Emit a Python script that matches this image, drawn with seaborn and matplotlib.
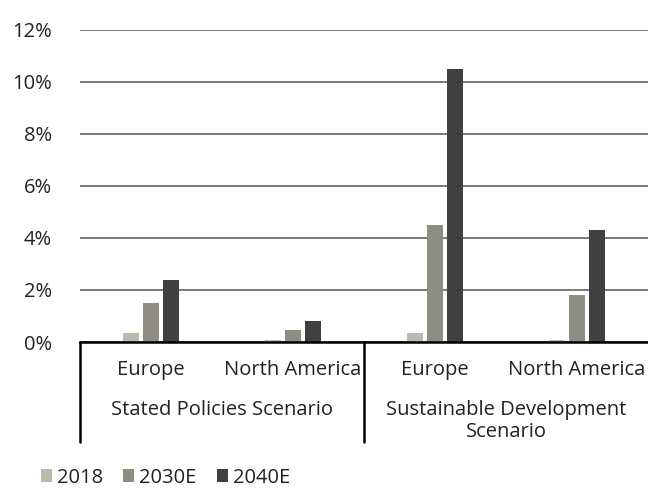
import pandas as pd
import matplotlib
matplotlib.use("Agg")
import matplotlib.pyplot as plt
import seaborn as sns
from matplotlib.patches import Patch
from matplotlib.ticker import PercentFormatter

# datos
regions = ["Europe", "North America", "Europe", "North America"]
scenarios = ["Stated Policies Scenario", "Sustainable Development\nScenario"]
years = ["2018", "2030E", "2040E"]
v2018 = [0.0035, 0.0008, 0.0035, 0.0008]
v2030 = [0.015, 0.0046, 0.045, 0.018]
v2040 = [0.024, 0.008, 0.105, 0.043]
colors = ["#bdb9aa", "#8e8e83", "#404040"]

keys = ["sps_eu", "sps_na", "sds_eu", "sds_na"]
rows = []
for yr, vals in zip(years, [v2018, v2030, v2040]):
    for k, v in zip(keys, vals):
        rows.append({"cat": k, "year": yr, "value": v})
df = pd.DataFrame(rows)

sns.set_style("white")
plt.rcParams["font.family"] = ["Open Sans", "DejaVu Sans"]
fs = 14.5

fig = plt.figure(figsize=(6.48, 4.92), dpi=100)
ax = fig.add_axes([80 / 648, 1 - 342 / 492, 1 - 80 / 648, (342 - 29.5) / 492])

sns.barplot(data=df, x="cat", y="value", hue="year", order=keys, hue_order=years,
            palette=colors, width=0.43, gap=0.2, ax=ax, legend=False,
            edgecolor="none", errorbar=None)

ax.set_ylim(0, 0.12)
ax.set_xlim(-0.5, 3.5)
ax.set_yticks([0, 0.02, 0.04, 0.06, 0.08, 0.1, 0.12])
ax.yaxis.set_major_formatter(PercentFormatter(1.0, decimals=0))
ax.yaxis.grid(True, color="#6e6e6e", linewidth=1.3)
ax.set_axisbelow(True)
for s in ["top", "right", "left"]:
    ax.spines[s].set_visible(False)
ax.spines["bottom"].set_color("black")
ax.spines["bottom"].set_linewidth(1.8)
ax.tick_params(axis="y", length=0, labelsize=fs, labelcolor="#222222", pad=20)
ax.set_xticks(range(4))
ax.set_xticklabels(regions)
ax.tick_params(axis="x", length=0, labelsize=fs, labelcolor="#222222", pad=13)
ax.set_xlabel("")
ax.set_ylabel("")

# etiquetas de escenario y separadores
trans = ax.get_xaxis_transform()
ax.text(0.5, -0.185, scenarios[0], transform=trans, ha="center", va="top",
        fontsize=fs, color="#222222")
ax.text(2.5, -0.185, scenarios[1], transform=trans, ha="center", va="top",
        fontsize=fs, color="#222222", linespacing=1.12)
for xs in [-0.5, 1.5]:
    ax.plot([xs, xs], [0, -0.32], transform=trans, color="black", lw=1.8,
            clip_on=False)

handles = [Patch(facecolor=c, edgecolor="none") for c in colors]
fig.legend(handles, years, loc="lower left", bbox_to_anchor=(0.035, -0.028),
           ncol=3, frameon=False, fontsize=fs, handlelength=0.55, handleheight=0.55,
           handletextpad=0.25, columnspacing=1.0, labelcolor="#222222")

fig.savefig("out.png", dpi=100)
